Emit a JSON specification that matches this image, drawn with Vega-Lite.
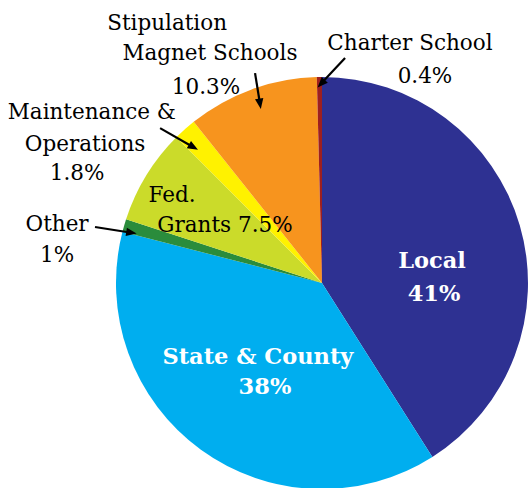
{
  "$schema": "https://vega.github.io/schema/vega-lite/v6.json",
  "width": 531,
  "height": 488,
  "padding": 0,
  "autosize": {"type": "none"},
  "background": "white",
  "config": {"view": {"stroke": null}},
  "datasets": {
    "slices": [
      {"source": "Local", "share": 41, "idx": 1},
      {"source": "State & County", "share": 38, "idx": 2},
      {"source": "Other", "share": 1, "idx": 3},
      {"source": "Fed. Grants", "share": 7.5, "idx": 4},
      {"source": "Maintenance & Operations", "share": 1.8, "idx": 5},
      {"source": "Stipulation Magnet Schools", "share": 10.3, "idx": 6},
      {"source": "Charter School", "share": 0.4, "idx": 7}
    ],
    "labels": [
      {"text": "Stipulation", "u": -0.752, "v": 1.257, "kind": "outside"},
      {"text": "Magnet Schools", "u": -0.544, "v": 1.112, "kind": "outside"},
      {"text": "10.3%", "u": -0.563, "v": 0.947, "kind": "outside"},
      {"text": "Charter School", "u": 0.427, "v": 1.16, "kind": "outside"},
      {"text": "0.4%", "u": 0.5, "v": 1.0, "kind": "outside"},
      {"text": "Maintenance &", "u": -1.117, "v": 0.825, "kind": "outside"},
      {"text": "Operations", "u": -1.15, "v": 0.67, "kind": "outside"},
      {"text": "1.8%", "u": -1.189, "v": 0.529, "kind": "outside"},
      {"text": "Fed.", "u": -0.728, "v": 0.422, "kind": "outside"},
      {"text": "Grants 7.5%", "u": -0.471, "v": 0.277, "kind": "outside"},
      {"text": "Other", "u": -1.286, "v": 0.282, "kind": "outside"},
      {"text": "1%", "u": -1.286, "v": 0.131, "kind": "outside"},
      {"text": "Local", "u": 0.534, "v": 0.107, "kind": "inside"},
      {"text": "41%", "u": 0.544, "v": -0.053, "kind": "inside"},
      {"text": "State & County", "u": -0.311, "v": -0.359, "kind": "inside"},
      {"text": "38%", "u": -0.277, "v": -0.505, "kind": "inside"}
    ],
    "arrows": [
      {"label": "Stipulation", "u1": -0.325, "v1": 1.019, "u2": -0.301, "v2": 0.87},
      {"label": "Charter", "u1": 0.112, "v1": 1.092, "u2": -0.004, "v2": 0.968},
      {"label": "Maintenance", "u1": -0.786, "v1": 0.752, "u2": -0.624, "v2": 0.659},
      {"label": "Other", "u1": -1.102, "v1": 0.272, "u2": -0.925, "v2": 0.244}
    ]
  },
  "layer": [
    {
      "data": {"name": "slices"},
      "mark": {"type": "arc", "outerRadius": 206},
      "encoding": {
        "theta": {"field": "share", "type": "quantitative", "stack": true},
        "order": {"field": "idx", "type": "quantitative"},
        "color": {
          "field": "source",
          "type": "nominal",
          "legend": null,
          "scale": {
            "domain": ["Local", "State & County", "Other", "Fed. Grants", "Maintenance & Operations", "Stipulation Magnet Schools", "Charter School"],
            "range": ["#2E3192", "#00AEEF", "#2A8C3C", "#CBDB2A", "#FFF200", "#F7941E", "#9E1F1F"]
          }
        },
        "x": {"datum": 0, "type": "quantitative", "scale": {"domain": [-1.5631, 1.0146], "nice": false, "zero": false}, "axis": null},
        "y": {"datum": 0, "type": "quantitative", "scale": {"domain": [-0.9951, 1.3738], "nice": false, "zero": false}, "axis": null}
      }
    },
    {
      "data": {"name": "arrows"},
      "mark": {"type": "rule", "color": "black", "strokeWidth": 2.2},
      "encoding": {
        "x": {"field": "u1", "type": "quantitative"},
        "y": {"field": "v1", "type": "quantitative"},
        "x2": {"field": "u2"},
        "y2": {"field": "v2"}
      }
    },
    {
      "data": {"name": "arrows"},
      "transform": [{"calculate": "(atan2(datum.u2 - datum.u1, datum.v2 - datum.v1) * 180 / PI + 360) % 360", "as": "ang"}],
      "mark": {"type": "point", "shape": "M-0.8,1 L0,-1 L0.8,1 Z", "filled": true, "color": "black", "size": 110, "opacity": 1},
      "encoding": {
        "x": {"field": "u2", "type": "quantitative"},
        "y": {"field": "v2", "type": "quantitative"},
        "angle": {"field": "ang", "type": "quantitative", "scale": {"domain": [0, 360], "range": [0, 360]}}
      }
    },
    {
      "data": {"name": "labels"},
      "transform": [{"filter": "datum.kind === 'outside'"}],
      "mark": {"type": "text", "font": "DejaVu Serif", "fontSize": 21.5, "color": "black", "align": "center", "baseline": "middle"},
      "encoding": {
        "x": {"field": "u", "type": "quantitative"},
        "y": {"field": "v", "type": "quantitative"},
        "text": {"field": "text"}
      }
    },
    {
      "data": {"name": "labels"},
      "transform": [{"filter": "datum.kind === 'inside'"}],
      "mark": {"type": "text", "font": "DejaVu Serif", "fontSize": 22.5, "fontWeight": "bold", "color": "white", "align": "center", "baseline": "middle"},
      "encoding": {
        "x": {"field": "u", "type": "quantitative"},
        "y": {"field": "v", "type": "quantitative"},
        "text": {"field": "text"}
      }
    }
  ]
}
